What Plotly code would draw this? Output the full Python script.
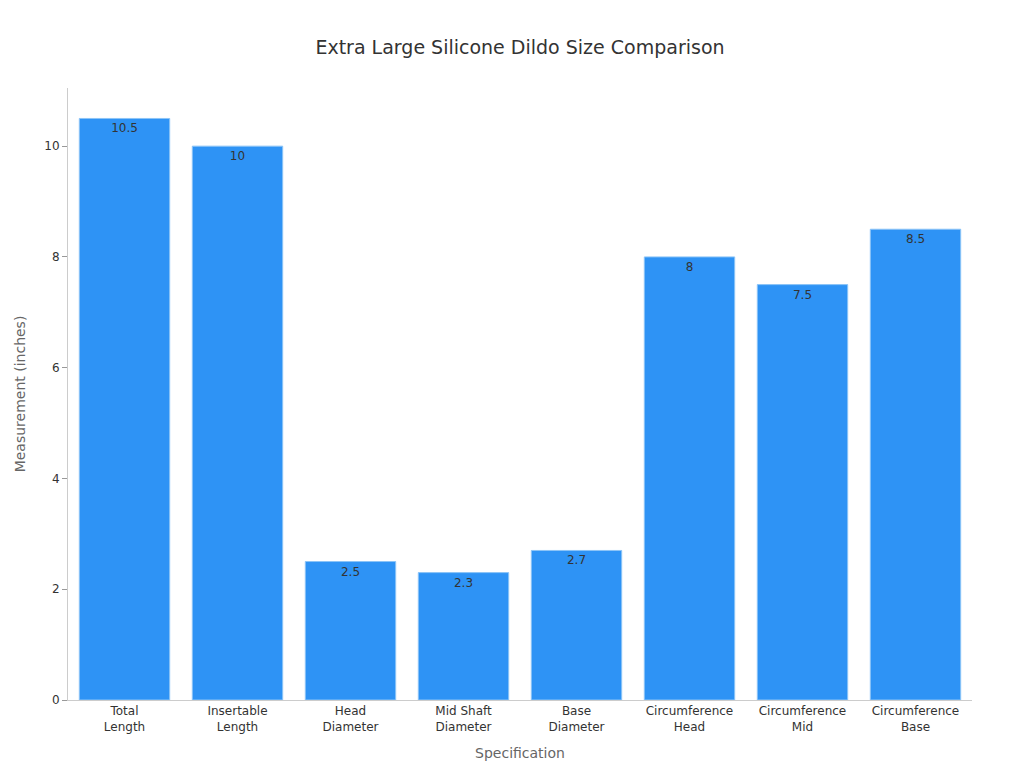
import plotly.graph_objects as go

categories = ["Total<br>Length", "Insertable<br>Length", "Head<br>Diameter", "Mid Shaft<br>Diameter",
              "Base<br>Diameter", "Circumference<br>Head", "Circumference<br>Mid", "Circumference<br>Base"]
values = [10.5, 10, 2.5, 2.3, 2.7, 8, 7.5, 8.5]

fig = go.Figure(go.Bar(
    x=categories, y=values, text=[str(v) for v in values], textposition="inside",
    insidetextanchor="end", textfont=dict(color="#333333", size=12),
    marker=dict(color="#2E93F5", line=dict(color="#8CC4F7", width=1)),
))
fig.update_layout(
    width=1024, height=768, template="plotly_white",
    font=dict(family="DejaVu Sans", size=12, color="#333333"),
    title=dict(text="Extra Large Silicone Dildo Size Comparison", x=0.5, y=0.957,
               font=dict(size=19, color="#333333")),
    margin=dict(l=60, r=60, t=80, b=76), bargap=0.2,
    xaxis=dict(title=dict(text="Specification", font=dict(size=14, color="#666666")),
               showline=True, linecolor="#cccccc", showgrid=False, tickfont=dict(size=12)),
    yaxis=dict(title=dict(text="Measurement (inches)", font=dict(size=14, color="#666666")),
               range=[0, 11.05], dtick=2, showline=True, linecolor="#cccccc", showgrid=False,
               ticks="outside", tickcolor="#999999", ticklen=5, zeroline=False),
    plot_bgcolor="white", paper_bgcolor="white",
)
fig.write_html("out.html")
